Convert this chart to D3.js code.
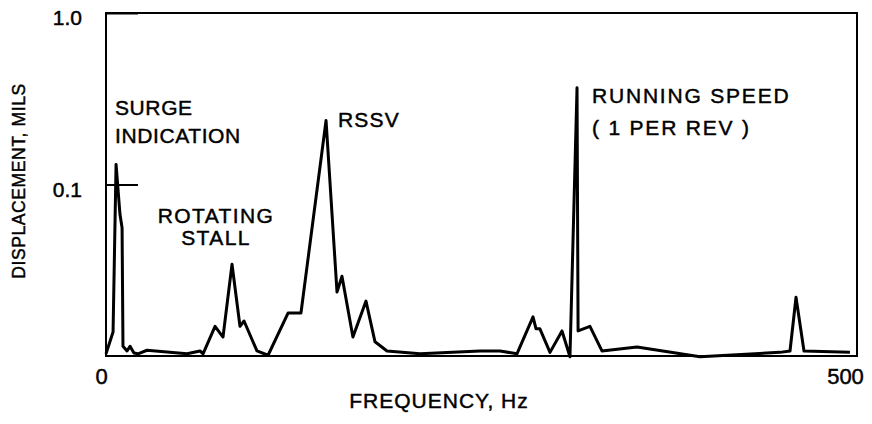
<!DOCTYPE html>
<html>
<head>
<meta charset="utf-8">
<script src="https://cdn.jsdelivr.net/npm/d3@7"></script>
<style>
	body { margin: 0; background: #fff; }
	#chart { width: 872px; height: 424px; }
	text { font-family: "Liberation Sans", Arial, sans-serif; fill: #000; stroke: #000; stroke-width: 0.45px; }
</style>
</head>
<body>
<div id="chart"></div>
<script>
'use strict';

// spectrum: frequency (Hz) and displacement (mils)
var frequency = [0, 4.7, 6.7, 9.3, 10.7, 11.3, 14.0, 16.0, 18.6, 21.3,
	27.3, 53.9, 62.6, 64.6, 72.6, 77.9, 83.9, 89.2, 91.9, 100.5,
	107.9, 121.2, 129.8, 146.5, 153.8, 157.1, 164.4, 173.1, 179.1, 187.1,
	209.1, 249.0, 262.3, 273.6, 284.3, 286.3, 288.9, 295.6, 303.6, 308.9,
	313.6, 314.3, 322.2, 330.2, 353.5, 395.5, 448.7, 455.4, 459.4, 464.7,
	495.3];
var displacement = [0.0103, 0.0138, 0.131, 0.067, 0.056, 0.0114, 0.0107, 0.0114, 0.0104, 0.0103,
	0.0108, 0.0103, 0.0107, 0.0103, 0.0149, 0.0129, 0.0343, 0.0149, 0.0160, 0.0107,
	0.0101, 0.0178, 0.0178, 0.236, 0.0236, 0.0292, 0.0129, 0.0209, 0.0121, 0.0107,
	0.0103, 0.0107, 0.0107, 0.0103, 0.0169, 0.0144, 0.0144, 0.0105, 0.0140, 0.0099,
	0.366, 0.0140, 0.0149, 0.0107, 0.0113, 0.0099, 0.0105, 0.0107, 0.0220, 0.0107,
	0.0105];

var xTicks = [0, 500];
var xTickLabels = ['0', '500'];
var yTicks = [0.1, 1];
var yTickLabels = ['0.1', '1.0'];

var xTitle = 'FREQUENCY, Hz';
var yTitle = 'DISPLACEMENT, MILS';

var notes = [
	{lines: ['SURGE', 'INDICATION'], x: 115, y: 115, gap: 28, anchor: 'start', spacing: 0.6},
	{lines: ['ROTATING', 'STALL'], x: 216, y: 223, gap: 22, anchor: 'middle', spacing: 1.4},
	{lines: ['RSSV'], x: 338, y: 127, gap: 0, anchor: 'start', spacing: 1.2},
	{lines: ['RUNNING SPEED', '( 1 PER REV )'], x: 592, y: 103, gap: 32, anchor: 'start', spacing: 1.8}
];

var el = document.getElementById('chart');
var margin = {top: 13, right: 15, bottom: 68, left: 106};
var width = 872 - margin.left - margin.right;
var height = 424 - margin.top - margin.bottom;

var root = d3.select(el).append('svg')
	.attr('width', 872)
	.attr('height', 424);

var svg = root.append('g')
	.attr('transform', 'translate(' + margin.left + ',' + margin.top + ')');

var xScale = d3.scaleLinear()
	.domain([0, 500])
	.range([0, width]);

var yScale = d3.scaleLog()
	.domain([0.01, 1])
	.range([height, 0]);

// frame
svg.append('rect')
	.attr('width', width)
	.attr('height', height)
	.attr('fill', 'none')
	.attr('stroke', '#000')
	.attr('stroke-width', 2);

var xAxis = d3.axisBottom(xScale)
	.tickValues(xTicks)
	.tickFormat(function(d, i){ return xTickLabels[i]; })
	.tickSize(0)
	.tickPadding(12);

var gx = svg.append('g')
	.attr('class', 'axis x')
	.attr('transform', 'translate(0,' + height + ')')
	.call(xAxis);
gx.select('.domain').remove();
gx.selectAll('text')
	.style('font-size', '22px')
	.attr('dx', function(d){ return d === 0 ? -5 : -12; });

var yAxis = d3.axisLeft(yScale)
	.tickValues(yTicks)
	.tickFormat(function(d, i){ return yTickLabels[i]; })
	.tickSizeInner(-32)
	.tickSizeOuter(0)
	.tickPadding(24);

var gy = svg.append('g')
	.attr('class', 'axis y')
	.call(yAxis);
gy.select('.domain').remove();
gy.selectAll('line').attr('stroke', '#000').attr('stroke-width', 2);
gy.selectAll('text')
	.style('font-size', '21px')
	.attr('dy', '0.55em');

root.selectAll('.axis text')
	.attr('fill', '#000')
	.style('font-family', '"Liberation Sans", Arial, sans-serif');

// spectrum trace
var points = frequency.map(function(f, i){ return [f, displacement[i]]; });

var line = d3.line()
	.x(function(d){ return xScale(d[0]); })
	.y(function(d){ return yScale(d[1]); });

svg.append('path')
	.datum(points)
	.attr('d', line)
	.attr('fill', 'none')
	.attr('stroke', '#000')
	.attr('stroke-width', 3)
	.attr('stroke-linejoin', 'round');

// titles
root.append('text')
	.attr('x', 439)
	.attr('y', 408)
	.attr('text-anchor', 'middle')
	.style('font-size', '21px')
	.style('letter-spacing', '1px')
	.text(xTitle);

root.append('text')
	.attr('transform', 'translate(25,181) rotate(-90)')
	.attr('text-anchor', 'middle')
	.style('font-size', '17.5px')
	.style('letter-spacing', '0.6px')
	.text(yTitle);

// annotations
notes.forEach(function(n){
	var t = root.append('text')
		.attr('text-anchor', n.anchor)
		.style('font-size', '21px')
		.style('letter-spacing', n.spacing + 'px');
	n.lines.forEach(function(s, i){
		t.append('tspan')
			.attr('x', n.x)
			.attr('y', n.y + i * n.gap)
			.text(s);
	});
});
</script>
</body>
</html>
